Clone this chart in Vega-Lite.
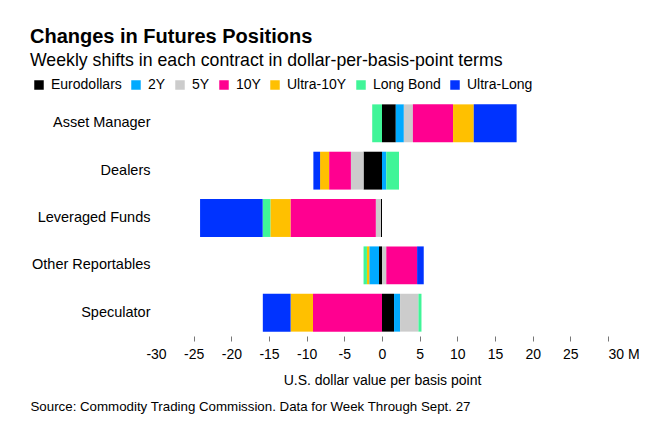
{
  "$schema": "https://vega.github.io/schema/vega-lite/v6.json",
  "width": 452,
  "height": 232,
  "autosize": {"type": "none"},
  "padding": {"left": 156, "top": 102, "right": 62, "bottom": 89},
  "background": "white",
  "config": {"view": {"stroke": null}, "font": "Liberation Sans"},
  "title": {
    "text": "Changes in Futures Positions",
    "subtitle": "Weekly shifts in each contract in dollar-per-basis-point terms",
    "anchor": "start",
    "frame": "group",
    "dx": -126,
    "font": "Liberation Sans",
    "fontSize": 20,
    "fontWeight": "bold",
    "color": "#000000",
    "subtitleFont": "Liberation Sans",
    "subtitleFontSize": 17.7,
    "subtitleColor": "#000000",
    "subtitlePadding": 5,
    "offset": 8
  },
  "data": {
    "values": [
      {"group": "Asset Manager", "contract": "Eurodollars", "value": 1.83},
      {"group": "Asset Manager", "contract": "2Y", "value": 1.07},
      {"group": "Asset Manager", "contract": "5Y", "value": 1.2},
      {"group": "Asset Manager", "contract": "10Y", "value": 5.33},
      {"group": "Asset Manager", "contract": "Ultra-10Y", "value": 2.75},
      {"group": "Asset Manager", "contract": "Long Bond", "value": -1.3},
      {"group": "Asset Manager", "contract": "Ultra-Long", "value": 5.69},
      {"group": "Dealers", "contract": "Eurodollars", "value": -2.45},
      {"group": "Dealers", "contract": "2Y", "value": 0.57},
      {"group": "Dealers", "contract": "5Y", "value": -1.68},
      {"group": "Dealers", "contract": "10Y", "value": -2.89},
      {"group": "Dealers", "contract": "Ultra-10Y", "value": -1.2},
      {"group": "Dealers", "contract": "Long Bond", "value": 1.69},
      {"group": "Dealers", "contract": "Ultra-Long", "value": -0.89},
      {"group": "Leveraged Funds", "contract": "Eurodollars", "value": -0.15},
      {"group": "Leveraged Funds", "contract": "2Y", "value": 0},
      {"group": "Leveraged Funds", "contract": "5Y", "value": -0.67},
      {"group": "Leveraged Funds", "contract": "10Y", "value": -11.33},
      {"group": "Leveraged Funds", "contract": "Ultra-10Y", "value": -2.67},
      {"group": "Leveraged Funds", "contract": "Long Bond", "value": -1.02},
      {"group": "Leveraged Funds", "contract": "Ultra-Long", "value": -8.31},
      {"group": "Other Reportables", "contract": "Eurodollars", "value": -0.4},
      {"group": "Other Reportables", "contract": "2Y", "value": -1.29},
      {"group": "Other Reportables", "contract": "5Y", "value": 0.57},
      {"group": "Other Reportables", "contract": "10Y", "value": 4.09},
      {"group": "Other Reportables", "contract": "Ultra-10Y", "value": -0.31},
      {"group": "Other Reportables", "contract": "Long Bond", "value": -0.45},
      {"group": "Other Reportables", "contract": "Ultra-Long", "value": 0.88},
      {"group": "Speculator", "contract": "Eurodollars", "value": 1.6},
      {"group": "Speculator", "contract": "2Y", "value": 0.8},
      {"group": "Speculator", "contract": "5Y", "value": 2.44},
      {"group": "Speculator", "contract": "10Y", "value": -9.16},
      {"group": "Speculator", "contract": "Ultra-10Y", "value": -2.97},
      {"group": "Speculator", "contract": "Long Bond", "value": 0.4},
      {"group": "Speculator", "contract": "Ultra-Long", "value": -3.69}
    ]
  },
  "transform": [
    {"calculate": "indexof(['Eurodollars', '2Y', '5Y', '10Y', 'Ultra-10Y', 'Long Bond', 'Ultra-Long'], datum.contract)", "as": "stackOrder"}
  ],
  "mark": {"type": "bar"},
  "encoding": {
    "y": {
      "field": "group",
      "type": "nominal",
      "sort": ["Asset Manager", "Dealers", "Leveraged Funds", "Other Reportables", "Speculator"],
      "scale": {"paddingInner": 0.2, "paddingOuter": 0.05},
      "axis": {
        "domain": false,
        "ticks": false,
        "labelFontSize": 14.5,
        "labelColor": "#000000",
        "labelPadding": 6,
        "title": "Source: Commodity Trading Commission. Data for Week Through Sept. 27",
        "titleAngle": 0,
        "titleX": -126,
        "titleY": 308,
        "titleAlign": "left",
        "titleBaseline": "alphabetic",
        "titleFontSize": 13.3,
        "titleFontWeight": "normal",
        "titleColor": "#000000"
      }
    },
    "x": {
      "field": "value",
      "type": "quantitative",
      "stack": "zero",
      "scale": {"domain": [-30, 30], "nice": false},
      "axis": {
        "values": [-30, -25, -20, -15, -10, -5, 0, 5, 10, 15, 20, 25, 30],
        "labelExpr": "datum.value == 30 ? '30 M' : '' + datum.value",
        "labelAlign": {"condition": {"test": "datum.value == 30", "value": "left"}, "value": "center"},
        "domain": false,
        "grid": false,
        "offset": 2,
        "tickSize": 5,
        "tickColor": "#777777",
        "tickOpacity": {"condition": {"test": "datum.value == -30", "value": 0}, "value": 1},
        "labelFontSize": 14,
        "labelColor": "#000000",
        "labelPadding": 6,
        "title": "U.S. dollar value per basis point",
        "titleFontSize": 14,
        "titleFontWeight": "normal",
        "titleColor": "#000000",
        "titlePadding": 12
      }
    },
    "order": {"field": "stackOrder", "type": "quantitative", "sort": "ascending"},
    "color": {
      "field": "contract",
      "type": "nominal",
      "sort": ["Eurodollars", "2Y", "5Y", "10Y", "Ultra-10Y", "Long Bond", "Ultra-Long"],
      "scale": {
        "domain": ["Eurodollars", "2Y", "5Y", "10Y", "Ultra-10Y", "Long Bond", "Ultra-Long"],
        "range": ["#000000", "#00aaff", "#cccccc", "#ff0090", "#ffc000", "#40f598", "#0033ff"]
      },
      "legend": {
        "orient": "none",
        "legendX": -124,
        "legendY": -24,
        "direction": "horizontal",
        "title": null,
        "symbolType": "square",
        "symbolSize": 90,
        "symbolStrokeWidth": 0,
        "labelFontSize": 14,
        "labelColor": "#000000",
        "labelOffset": 5,
        "columnPadding": 7
      }
    }
  }
}
